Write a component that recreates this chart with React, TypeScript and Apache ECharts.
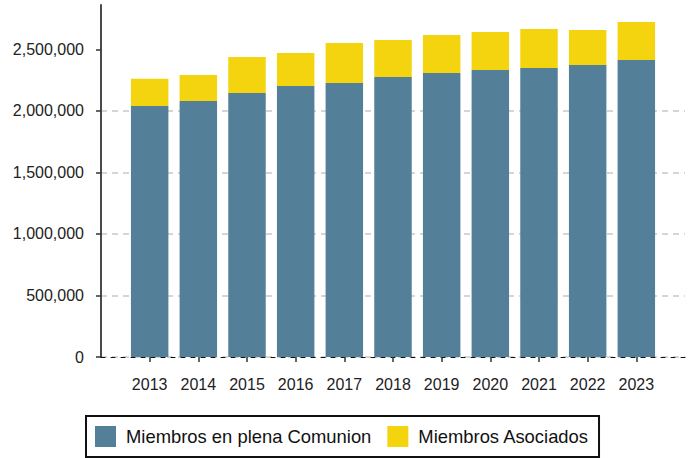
import React, { useEffect, useRef } from "react";
import * as echarts from "echarts";

const years = ["2013", "2014", "2015", "2016", "2017", "2018", "2019", "2020", "2021", "2022", "2023"];
const plenaComunion = [2040000, 2080000, 2145000, 2202000, 2226000, 2275000, 2308000, 2332000, 2348000, 2373000, 2413000];
const asociados = [220000, 211000, 293000, 268000, 325000, 301000, 308000, 309000, 317000, 284000, 309000];
const yTicks = [0, 500000, 1000000, 1500000, 2000000, 2500000];
const yMax = 2860000;

export default function App() {
  const ref = useRef<HTMLDivElement>(null);
  useEffect(() => {
    if (!ref.current) return;
    const chart = echarts.init(ref.current, null, { renderer: "svg" });
    const cats = ["", ...years, ""];
    const pad = (a: number[]) => [null, ...a, null];
    const font = "'Liberation Sans', Arial, sans-serif";
    chart.setOption({
      animation: false,
      textStyle: { fontFamily: font },
      grid: { left: 101, right: 10, top: 5, bottom: 101, containLabel: false },
      legend: {
        bottom: 1,
        left: 86,
        padding: [10, 10, 10, 9],
        borderColor: "#111",
        borderWidth: 2,
        borderRadius: 0,
        itemWidth: 21,
        itemHeight: 21,
        itemGap: 16,
        icon: "rect",
        textStyle: { fontSize: 18.4, color: "#111", fontFamily: font, padding: [0, 0, 0, 5] },
        data: ["Miembros en plena Comunion", "Miembros Asociados"],
      },
      xAxis: {
        type: "category",
        data: cats,
        boundaryGap: false,
        axisLine: { show: true, lineStyle: { color: "#111", width: 1, type: [4, 6] } },
        axisTick: {
          show: true,
          length: 5,
          interval: (i: number) => i > 0 && i < cats.length - 1,
          lineStyle: { color: "#333", width: 1.5 },
        },
        axisLabel: { interval: 0, margin: 19, fontSize: 16, color: "#222", fontFamily: font },
        splitLine: { show: false },
      },
      yAxis: {
        type: "value",
        min: 0,
        max: yMax,
        interval: 500000,
        axisLine: { show: true, lineStyle: { color: "#4a4a4a", width: 2 } },
        axisTick: { show: true, length: 5, customValues: yTicks, lineStyle: { color: "#333", width: 1.5 } },
        axisLabel: {
          customValues: yTicks,
          margin: 17,
          fontSize: 16,
          color: "#222",
          fontFamily: font,
          formatter: (v: number) => v.toLocaleString("en-US"),
        },
        splitLine: { show: true, showMaxLine: false, lineStyle: { color: "#c8c8c8", width: 1.5, type: [6, 5] } },
      },
      series: [
        {
          name: "Miembros en plena Comunion",
          type: "bar",
          stack: "total",
          barWidth: "77%",
          itemStyle: { color: "#538098" },
          data: pad(plenaComunion),
        },
        {
          name: "Miembros Asociados",
          type: "bar",
          stack: "total",
          barWidth: "77%",
          itemStyle: { color: "#F4D40F" },
          data: pad(asociados),
        },
      ],
    });
    return () => chart.dispose();
  }, []);
  return <div ref={ref} style={{ width: 695, height: 458, position: "absolute", left: 0, top: 0 }} />;
}
